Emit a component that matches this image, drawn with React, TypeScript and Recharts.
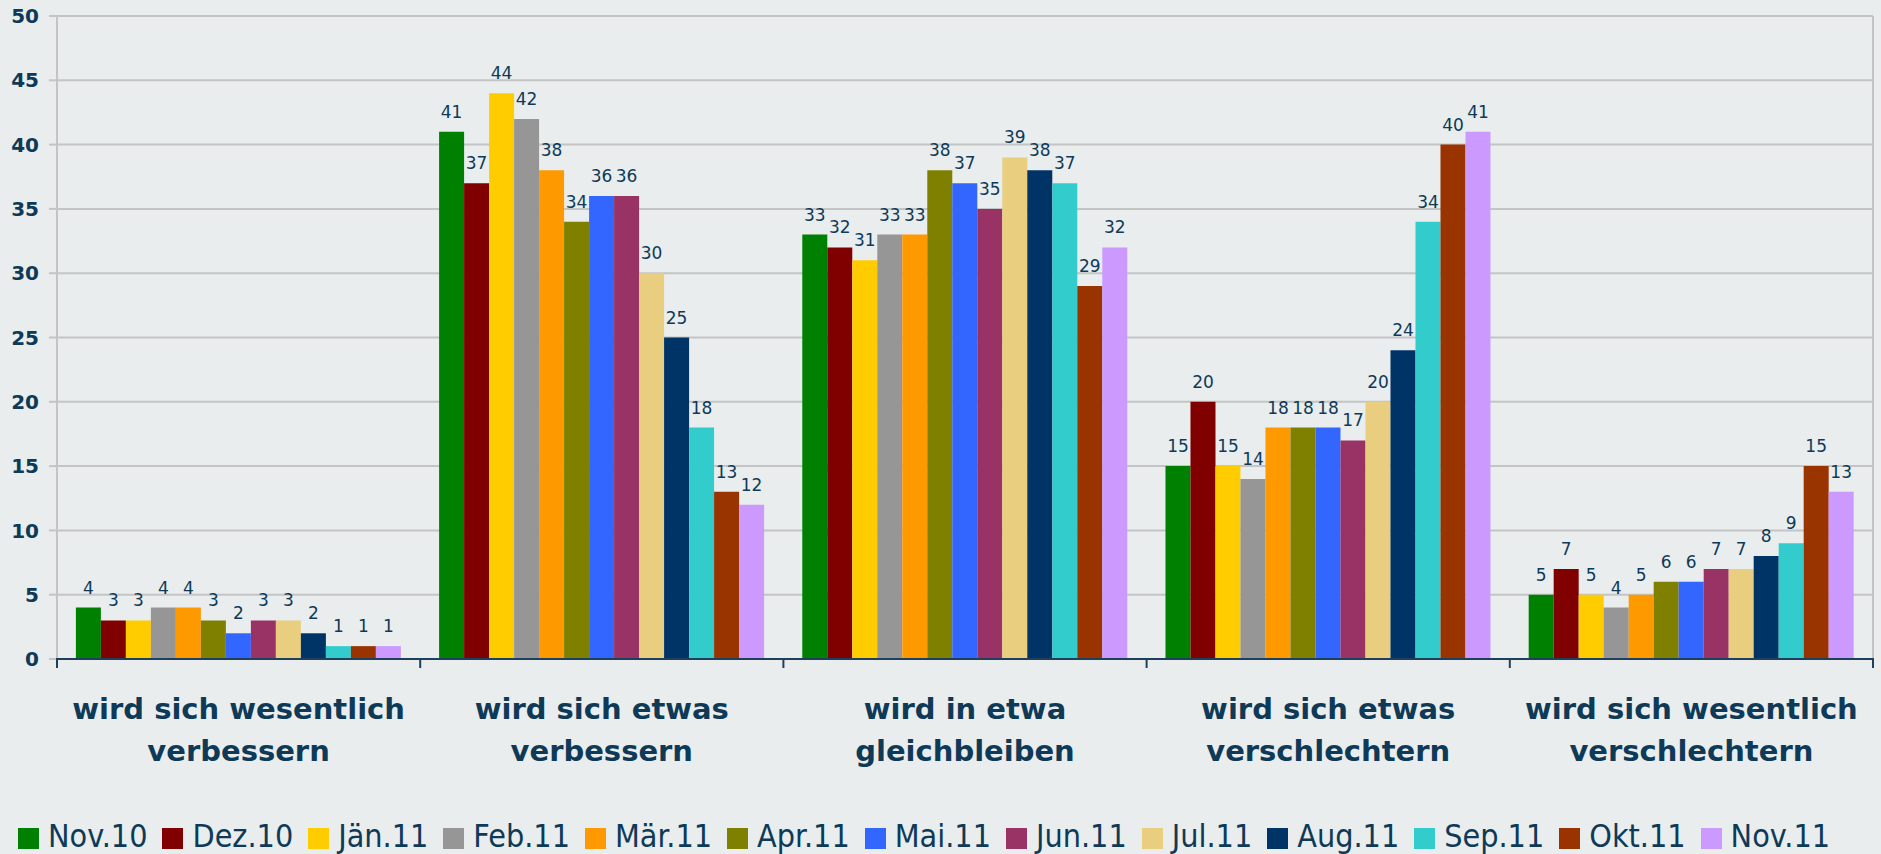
import React from 'react';
import { BarChart, Bar, XAxis, YAxis, CartesianGrid, Legend, LabelList } from 'recharts';

const categories = [
  'wird sich wesentlich\nverbessern',
  'wird sich etwas\nverbessern',
  'wird in etwa\ngleichbleiben',
  'wird sich etwas\nverschlechtern',
  'wird sich wesentlich\nverschlechtern',
];

const months = ['Nov.10', 'Dez.10', 'Jän.11', 'Feb.11', 'Mär.11', 'Apr.11', 'Mai.11', 'Jun.11', 'Jul.11', 'Aug.11', 'Sep.11', 'Okt.11', 'Nov.11'];
const colors = ['#008000', '#800000', '#FFCC00', '#969696', '#FF9900', '#808000', '#3366FF', '#993366', '#E8CE7E', '#003366', '#33CCCC', '#993300', '#CC99FF'];

const nov10 = [4, 41, 33, 15, 5];
const dez10 = [3, 37, 32, 20, 7];
const jan11 = [3, 44, 31, 15, 5];
const feb11 = [4, 42, 33, 14, 4];
const mar11 = [4, 38, 33, 18, 5];
const apr11 = [3, 34, 38, 18, 6];
const mai11 = [2, 36, 37, 18, 6];
const jun11 = [3, 36, 35, 17, 7];
const jul11 = [3, 30, 39, 20, 7];
const aug11 = [2, 25, 38, 24, 8];
const sep11 = [1, 18, 37, 34, 9];
const okt11 = [1, 13, 29, 40, 15];
const nov11 = [1, 12, 32, 41, 13];

const series = [nov10, dez10, jan11, feb11, mar11, apr11, mai11, jun11, jul11, aug11, sep11, okt11, nov11];

const yTicks = [0, 5, 10, 15, 20, 25, 30, 35, 40, 45, 50];

const data = categories.map((cat, i) => {
  const row: any = { cat };
  series.forEach((s, j) => {
    row['s' + j] = s[i];
  });
  return row;
});

const TEXT = '#0e3a57';
const GRID = '#c4c4c4';
const AXIS = '#1f405c';

// category label in two lines, plus the little tick marks at the band edges
const CategoryTick = (props: any) => {
  const { x, y, payload, index, width } = props;
  const band = (Number(width) || 1816) / categories.length;
  const lines = String(payload.value).split('\n');
  const left = x - band / 2;
  const right = x + band / 2;
  return (
    <g>
      <line x1={left} y1={y - 1} x2={left} y2={y + 9} stroke={AXIS} strokeWidth={2} />
      {index === categories.length - 1 && (
        <line x1={right} y1={y - 1} x2={right} y2={y + 9} stroke={AXIS} strokeWidth={2} />
      )}
      <text x={x} y={y} textAnchor="middle" fill={TEXT} fontFamily="DejaVu Sans" fontWeight="bold" fontSize={29}>
        {lines.map((l, i) => (
          <tspan key={i} x={x} dy={i === 0 ? 60 : 42}>{l}</tspan>
        ))}
      </text>
    </g>
  );
};

const LegendContent = () => (
  <div style={{ display: 'flex', alignItems: 'center', height: 40, paddingTop: 4, paddingLeft: 18, boxSizing: 'border-box' }}>
    {months.map((m, i) => (
      <div key={m} style={{ display: 'flex', alignItems: 'center', marginRight: 15 }}>
        <div style={{ width: 21, height: 21, background: colors[i], marginRight: 9, marginTop: 4 }} />
        <span style={{ fontFamily: '"DejaVu Sans Condensed", "DejaVu Sans"', fontStretch: 'condensed', fontSize: 32, color: TEXT, lineHeight: '32px' }}>{m}</span>
      </div>
    ))}
  </div>
);

export default function App() {
  return (
    <div style={{ position: 'absolute', left: 0, top: 0, width: 1881, height: 854, background: '#e9edee' }}>
      <BarChart
        width={1881}
        height={854}
        data={data}
        margin={{ top: 16, right: 7, left: 0, bottom: 0 }}
        barCategoryGap="5.2%"
        barGap={0}
      >
        <CartesianGrid yAxisId="left" xAxisId="b" vertical={false} stroke={GRID} strokeWidth={2} />
        <XAxis
          xAxisId="b"
          dataKey="cat"
          height={155}
          axisLine={{ stroke: AXIS, strokeWidth: 2 }}
          tickLine={false}
          tickSize={0}
          tickMargin={0}
          interval={0}
          tick={<CategoryTick />}
        />
        <YAxis
          yAxisId="left"
          width={57}
          domain={[0, 50]}
          ticks={yTicks}
          interval={0}
          axisLine={{ stroke: GRID, strokeWidth: 2 }}
          tickLine={{ stroke: GRID, strokeWidth: 2 }}
          tickSize={8}
          tickMargin={10}
          tick={{ fill: TEXT, fontFamily: 'DejaVu Sans', fontWeight: 'bold', fontSize: 20 }}
        />
        <YAxis
          yAxisId="right"
          orientation="right"
          width={1}
          domain={[0, 50]}
          tick={false}
          tickLine={false}
          axisLine={{ stroke: GRID, strokeWidth: 2 }}
        />
        <Legend verticalAlign="bottom" content={<LegendContent />} />
        {months.map((m, j) => (
          <Bar
            key={m}
            xAxisId="b"
            yAxisId="left"
            dataKey={'s' + j}
            name={m}
            fill={colors[j]}
            isAnimationActive={false}
          >
            <LabelList
              dataKey={'s' + j}
              position="top"
              offset={14}
              fill={TEXT}
              fontFamily="DejaVu Sans"
              fontSize={17}
            />
          </Bar>
        ))}
      </BarChart>
    </div>
  );
}
